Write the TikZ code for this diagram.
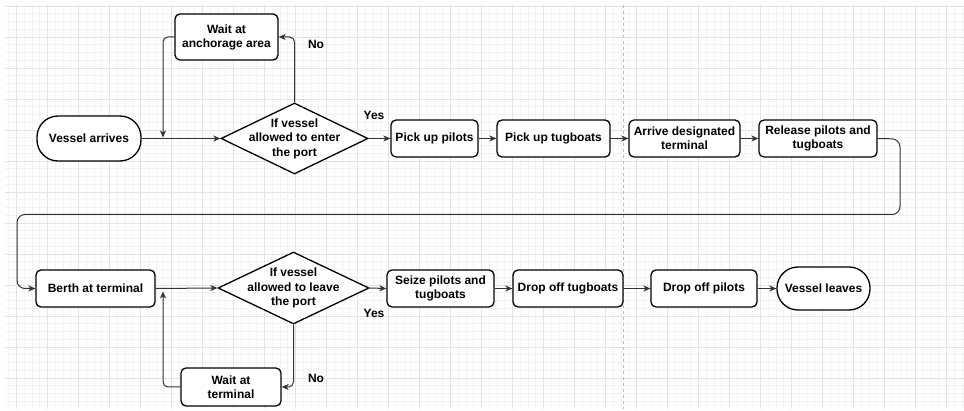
\documentclass[tikz,border=0pt]{standalone}
\usepackage{fontspec}
\setmainfont{Liberation Sans}
\usetikzlibrary{arrows.meta,shapes.geometric}

\definecolor{gridminor}{HTML}{F3F3F3}
\definecolor{gridmajor}{HTML}{E3E3E3}
\definecolor{pagebreak}{HTML}{BDBDBD}
\definecolor{edgegray}{HTML}{333333}

\tikzset{
  base/.style={draw=black, line width=1.3pt, fill=white, align=center,
    font=\fontsize{12}{14}\selectfont\bfseries, inner sep=0pt},
  process/.style={base, rectangle, rounded corners=5pt},
  terminal/.style={base, rectangle, rounded corners=21pt},
  decision/.style={base, diamond, shape aspect=2},
  dtext/.style={align=center, font=\fontsize{12}{14.5}\selectfont\bfseries, inner sep=0pt},
  tag/.style={font=\fontsize{12}{14}\selectfont\bfseries, inner sep=0pt},
  flow/.style={draw=edgegray, line width=1pt, rounded corners=5pt,
    -{Stealth[length=7pt,width=6pt,inset=2pt]}},
  gridmin/.style={draw=gridminor, line width=0.6pt},
  gridmaj/.style={draw=gridmajor, line width=0.8pt},
}

\begin{document}
\begin{tikzpicture}[x=1pt,y=-1pt]
\useasboundingbox (0,0) rectangle (964,411);
\fill[white] (0,0) rectangle (964,411);

% background grid
\begin{scope}
  \clip (5,5) rectangle (964,409);
  \foreach \i in {-2,...,124}
    \draw[gridmin] ({16.3+7.75*\i},5) -- ({16.3+7.75*\i},409);
  \foreach \j in {-1,...,53}
    \draw[gridmin] (5,{6+7.75*\j}) -- (964,{6+7.75*\j});
  \foreach \i in {0,...,31}
    \draw[gridmaj] ({16.3+31*\i},5) -- ({16.3+31*\i},409);
  \foreach \j in {0,...,13}
    \draw[gridmaj] (5,{6+31*\j}) -- (964,{6+31*\j});
\end{scope}
\draw[pagebreak, line width=0.8pt, dash pattern=on 3pt off 3pt] (623.3,5) -- (623.3,409);

% upper row
\node[terminal, minimum width=104pt, minimum height=45pt] (va) at (89,138.5) {Vessel arrives};
\node[decision, minimum width=147pt, minimum height=71pt] (d1) at (294.5,138.5) {};
\node[dtext] (d1t) at (d1) {If vessel\\allowed to enter\\the port};
\node[process, minimum width=103pt, minimum height=46pt] (wa) at (226.5,37) {Wait at\\anchorage area};
\node[process, minimum width=87pt, minimum height=37pt] (pp) at (434.5,138.5) {Pick up pilots};
\node[process, minimum width=113pt, minimum height=37pt] (pt) at (553.5,138.5) {Pick up tugboats};
\node[process, minimum width=111pt, minimum height=37pt] (ad) at (684.5,138.5) {Arrive designated\\terminal};
\node[process, minimum width=118pt, minimum height=37pt] (rp) at (818,138.5) {Release pilots and\\tugboats};

% lower row
\node[process, minimum width=119pt, minimum height=37pt] (bt) at (95.5,288.5) {Berth at terminal};
\node[decision, minimum width=151pt, minimum height=72pt] (d2) at (293.5,288) {};
\node[dtext] (d2t) at (d2) {If vessel\\allowed to leave\\the port};
\node[process, minimum width=100pt, minimum height=38pt] (wt) at (231,387) {Wait at\\terminal};
\node[process, minimum width=107pt, minimum height=37pt] (sp) at (440.5,288.5) {Seize pilots and\\tugboats};
\node[process, minimum width=110pt, minimum height=37pt] (dt) at (568,288.5) {Drop off tugboats};
\node[process, minimum width=106pt, minimum height=37pt] (dp) at (704,288.5) {Drop off pilots};
\node[terminal, minimum width=93pt, minimum height=43pt] (vl) at (823.5,288.5) {Vessel leaves};

% junctions and bends
\coordinate (j1) at (163,137.5);
\coordinate (j2) at (163,291.5);
\coordinate (r1) at (900,139);
\coordinate (r2) at (900,214.5);
\coordinate (r3) at (17,214.5);

% labels
\node[tag] (no1) at (316,44) {No};
\node[tag] (yes1) at (374,115) {Yes};
\node[tag] (no2) at (316,378.5) {No};
\node[tag] (yes2) at (374,313) {Yes};

% connectors, upper row
\draw[flow] (va.east) -- (d1.west);
\draw[flow] (d1.north) |- (wa.east);
\draw[flow] (wa.west) -| (j1);
\draw[flow] (d1.east) -- (pp.west);
\draw[flow] (pp.east) -- (pt.west);
\draw[flow] (pt.east) -- (ad.west);
\draw[flow] (ad.east) -- (rp.west);
\draw[flow, rounded corners=8pt] (rp.east) -- (r1) -- (r2) -- (r3) |- (bt.west);

% connectors, lower row
\draw[flow] (bt.east) -- (d2.west);
\draw[flow] (d2.south) |- (wt.east);
\draw[flow] (wt.west) -| (j2);
\draw[flow] (d2.east) -- (sp.west);
\draw[flow] (sp.east) -- (dt.west);
\draw[flow] (dt.east) -- (dp.west);
\draw[flow] (dp.east) -- (vl.west);
\end{tikzpicture}
\end{document}
